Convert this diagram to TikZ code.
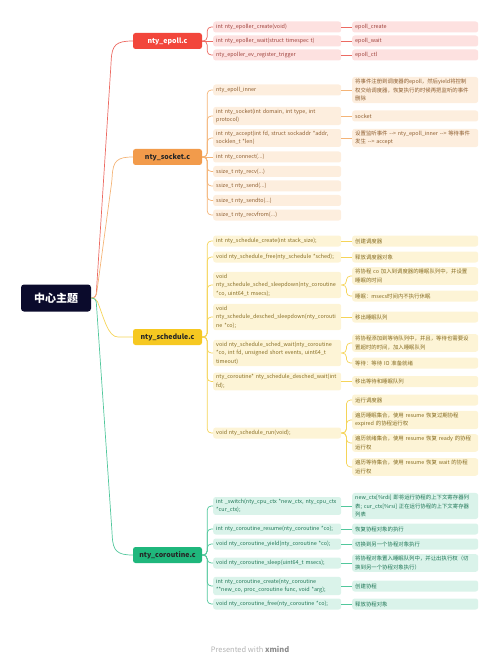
\documentclass[tikz,border=0pt]{standalone}
\usepackage{fontspec}
\setmainfont{Noto Sans CJK SC}
\definecolor{topicfill}{HTML}{0B0B2C}
\definecolor{epollmain}{HTML}{F2463B}
\definecolor{epollline}{HTML}{EC6A62}
\definecolor{epollpale}{HTML}{FDE1E0}
\definecolor{epollink}{HTML}{9E403A}
\definecolor{socketmain}{HTML}{F29B4B}
\definecolor{socketline}{HTML}{F4B477}
\definecolor{socketpale}{HTML}{FDEEDE}
\definecolor{socketink}{HTML}{8E5E30}
\definecolor{schedmain}{HTML}{F6C821}
\definecolor{schedline}{HTML}{F5D458}
\definecolor{schedpale}{HTML}{FDF4D6}
\definecolor{schedink}{HTML}{866C22}
\definecolor{coromain}{HTML}{1FB77C}
\definecolor{coroline}{HTML}{52C79C}
\definecolor{coropale}{HTML}{DAF3EA}
\definecolor{coroink}{HTML}{1F7656}
\newcommand{\dasharr}{-\kern0pt-\kern0pt>}

\begin{document}
\begin{tikzpicture}[
  x=1pt, y=-1pt,
  topic/.style={fill=topicfill, text=white, rounded corners=3pt, minimum width=70pt, minimum height=27pt, inner sep=0pt, font=\fontsize{11}{13}\selectfont\bfseries},
  branch/.style={fill=#1main, rounded corners=2.5pt, minimum width=69pt, minimum height=16pt, inner sep=0pt, font=\fontsize{7}{8}\selectfont\bfseries},
  sub/.style={anchor=west, fill=#1pale, text=#1ink, rounded corners=2.5pt, text width=122pt, inner xsep=3pt, inner ysep=2pt, minimum height=11pt, align=left, font=\fontsize{5.4}{8.5}\selectfont},
  leaf/.style={sub=#1, text width=120pt},
  link/.style={draw=#1line, line width=0.7pt, rounded corners=4pt}
]
\useasboundingbox (0,0) rectangle (500,660);

\node[topic] (topic) at (56,298) {中心主题};
\coordinate (hub) at (96,298);

\node[branch=epoll, text=white] (epoll) at (167.5,41) {nty\_epoll.c};
\node[branch=socket, text=black!85] (socket) at (167.5,157) {nty\_socket.c};
\node[branch=sched, text=black!85] (sched) at (167.5,337) {nty\_schedule.c};
\node[branch=coro, text=black!85] (coro) at (167.5,555) {nty\_coroutine.c};

\node[sub=epoll] (e1) at (213,27) {int nty\_epoller\_create(void)};
\node[sub=epoll] (e2) at (213,41) {int nty\_epoller\_wait(struct timespec t)};
\node[sub=epoll] (e3) at (213,55) {nty\_epoller\_ev\_register\_trigger};
\node[leaf=epoll] (ee1) at (352,27) {epoll\_create};
\node[leaf=epoll] (ee2) at (352,41) {epoll\_wait};
\node[leaf=epoll] (ee3) at (352,55) {epoll\_ctl};

\node[sub=socket] (s1) at (213,90) {nty\_epoll\_inner};
\node[sub=socket] (s2) at (213,116) {int nty\_socket(int domain, int type, int\\protocol)};
\node[sub=socket] (s3) at (213,138) {int nty\_accept(int fd, struct sockaddr *addr,\\socklen\_t *len)};
\node[sub=socket] (s4) at (213,157) {int nty\_connect(...)};
\node[sub=socket] (s5) at (213,171.5) {ssize\_t nty\_recv(...)};
\node[sub=socket] (s6) at (213,186) {ssize\_t nty\_send(...)};
\node[sub=socket] (s7) at (213,200.5) {ssize\_t nty\_sendto(...)};
\node[sub=socket] (s8) at (213,215) {ssize\_t nty\_recvfrom(...)};
\node[leaf=socket] (ss1) at (352,90) {将事件注册到调度器的epoll，然后yield将控制\\权交给调度器，恢复执行的时候再把监听的事件\\删除};
\node[leaf=socket] (ss2) at (352,116) {socket};
\node[leaf=socket] (ss3) at (352,138) {设置监听事件 \dasharr{} nty\_epoll\_inner \dasharr{} 等待事件\\发生 \dasharr{} accept};

\node[sub=sched] (c1) at (213,241) {int nty\_schedule\_create(int stack\_size);};
\node[sub=sched] (c2) at (213,257) {void nty\_schedule\_free(nty\_schedule *sched);};
\node[sub=sched] (c3) at (213,285) {void\\nty\_schedule\_sched\_sleepdown(nty\_coroutine\\ {}*co, uint64\_t msecs);};
\node[sub=sched] (c4) at (213,317) {void\\nty\_schedule\_desched\_sleepdown(nty\_corouti\\ne *co);};
\node[sub=sched] (c5) at (213,353) {void nty\_schedule\_sched\_wait(nty\_coroutine\\ {}*co, int fd, unsigned short events, uint64\_t\\timeout)};
\node[sub=sched] (c6) at (213,381.5) {nty\_coroutine* nty\_schedule\_desched\_wait(int\\fd);};
\node[sub=sched] (c7) at (213,433) {void nty\_schedule\_run(void);};
\node[leaf=sched] (cc1) at (352,241) {创建调度器};
\node[leaf=sched] (cc2) at (352,257) {释放调度器对象};
\node[leaf=sched] (cc3a) at (352,276) {将协程 co 加入到调度器的睡眠队列中，并设置\\睡眠的时间};
\node[leaf=sched] (cc3b) at (352,296) {睡眠：msecs时间内不执行休眠};
\node[leaf=sched] (cc4) at (352,317) {移出睡眠队列};
\node[leaf=sched] (cc5a) at (352,343) {将协程添加到等待队列中，并且，等待也需要设\\置超时的时间，加入睡眠队列};
\node[leaf=sched] (cc5b) at (352,363) {等待：等待 IO 准备就绪};
\node[leaf=sched] (cc6) at (352,381.5) {移出等待和睡眠队列};
\node[leaf=sched] (cc7a) at (352,400) {运行调度器};
\node[leaf=sched] (cc7b) at (352,420) {遍历睡眠集合，使用 resume 恢复过期协程\\expired 的协程运行权};
\node[leaf=sched] (cc7c) at (352,443) {遍历就绪集合，使用 resume 恢复 ready 的协程\\运行权};
\node[leaf=sched] (cc7d) at (352,467) {遍历等待集合，使用 resume 恢复 wait 的协程\\运行权};

\node[sub=coro] (r1) at (213,506) {int \_switch(nty\_cpu\_ctx *new\_ctx, nty\_cpu\_ctx\\ {}*cur\_ctx);};
\node[sub=coro] (r2) at (213,529) {int nty\_coroutine\_resume(nty\_coroutine *co);};
\node[sub=coro] (r3) at (213,544) {void nty\_coroutine\_yield(nty\_coroutine *co);};
\node[sub=coro] (r4) at (213,563) {void nty\_coroutine\_sleep(uint64\_t msecs);};
\node[sub=coro] (r5) at (213,586) {int nty\_coroutine\_create(nty\_coroutine\\ {}**new\_co, proc\_coroutine func, void *arg);};
\node[sub=coro] (r6) at (213,604) {void nty\_coroutine\_free(nty\_coroutine *co);};
\node[leaf=coro] (rr1) at (352,506) {new\_ctx[\%rdi] 即将运行协程的上下文寄存器列\\表; cur\_ctx[\%rsi] 正在运行协程的上下文寄存器\\列表};
\node[leaf=coro] (rr2) at (352,529) {恢复协程对象的执行};
\node[leaf=coro] (rr3) at (352,544) {切换到另一个协程对象执行};
\node[leaf=coro] (rr4) at (352,563) {将协程对象置入睡眠队列中，并让出执行权（切\\换到另一个协程对象执行）};
\node[leaf=coro] (rr5) at (352,586) {创建协程};
\node[leaf=coro] (rr6) at (352,604) {释放协程对象};

\node[font=\fontsize{7.5}{9}\selectfont, text=black!30] (credit) at (250,649) {Presented with \textcolor{black!45}{\bfseries xmind}};

\draw[link=epoll] (topic.east) -- (hub) -- (111,64) .. controls (112,45) and (116,41) .. (epoll.west);
\draw[link=socket] (topic.east) -- (hub) -- (112,180) .. controls (113,161) and (117,157) .. (socket.west);
\draw[link=sched] (topic.east) -- (hub) .. controls (104,318) and (108,337) .. (122,337) -- (sched.west);
\draw[link=coro] (topic.east) -- (hub) -- (112,532) .. controls (113,551) and (117,555) .. (coro.west);

\foreach \c in {e1,e3} \draw[link=epoll] (epoll.east) -- ++(5,0) |- (\c.west);
\draw[link=epoll] (epoll.east) -- (e2.west);
\foreach \c in {1,2,3} \draw[link=epoll] (e\c.east) -- (ee\c.west);

\foreach \c in {s1,s2,s3,s5,s6,s7,s8} \draw[link=socket] (socket.east) -- ++(5,0) |- (\c.west);
\draw[link=socket] (socket.east) -- (s4.west);
\foreach \c in {1,2,3} \draw[link=socket] (s\c.east) -- (ss\c.west);

\foreach \c in {c1,c2,c3,c4,c5,c6,c7} \draw[link=sched] (sched.east) -- ++(5,0) |- (\c.west);
\foreach \c in {1,2,4,6} \draw[link=sched] (c\c.east) -- (cc\c.west);
\foreach \c in {cc3a,cc3b} \draw[link=sched] (c3.east) -- ++(5,0) |- (\c.west);
\foreach \c in {cc5a,cc5b} \draw[link=sched] (c5.east) -- ++(5,0) |- (\c.west);
\foreach \c in {cc7a,cc7b,cc7c,cc7d} \draw[link=sched] (c7.east) -- ++(5,0) |- (\c.west);

\foreach \c in {r1,r2,r3,r4,r5,r6} \draw[link=coro] (coro.east) -- ++(5,0) |- (\c.west);
\foreach \c in {1,...,6} \draw[link=coro] (r\c.east) -- (rr\c.west);
\end{tikzpicture}
\end{document}
